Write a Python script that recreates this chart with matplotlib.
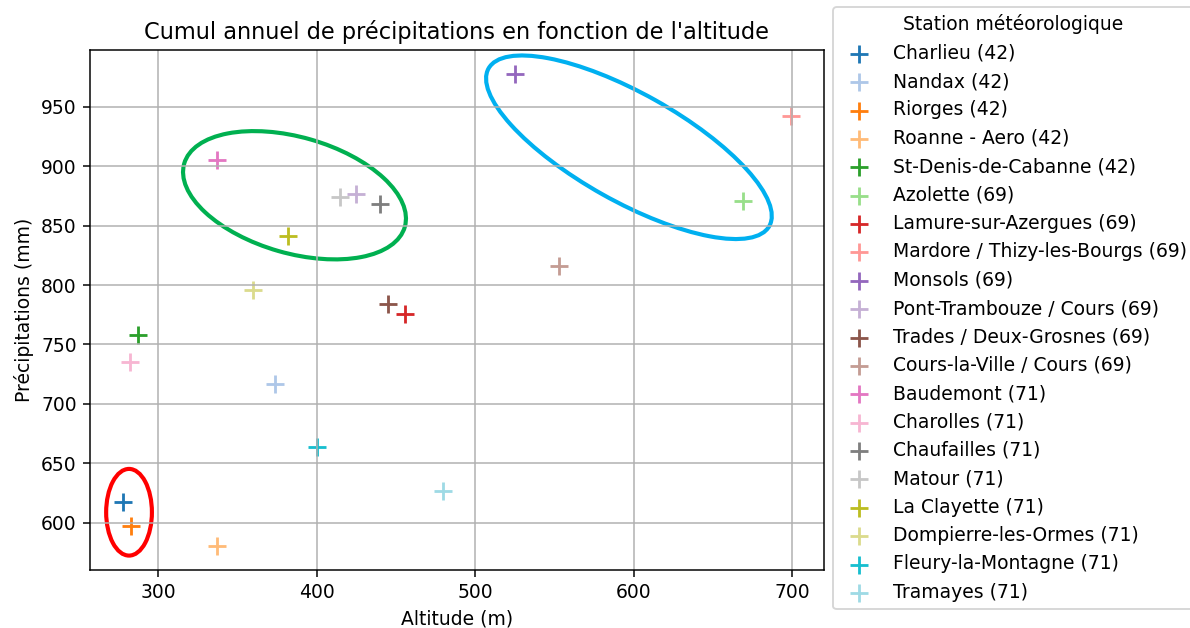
import matplotlib.pyplot as plt
from matplotlib.patches import Ellipse
from matplotlib.transforms import ScaledTranslation

stations = ["Charlieu (42)", "Nandax (42)", "Riorges (42)", "Roanne - Aero (42)",
            "St-Denis-de-Cabanne (42)", "Azolette (69)", "Lamure-sur-Azergues (69)",
            "Mardore / Thizy-les-Bourgs (69)", "Monsols (69)", "Pont-Trambouze / Cours (69)",
            "Trades / Deux-Grosnes (69)", "Cours-la-Ville / Cours (69)", "Baudemont (71)",
            "Charolles (71)", "Chaufailles (71)", "Matour (71)", "La Clayette (71)",
            "Dompierre-les-Ormes (71)", "Fleury-la-Montagne (71)", "Tramayes (71)"]
altitude = [278, 374, 283, 337, 287, 669, 456, 699, 525, 425,
            445, 553, 337, 282, 440, 415, 382, 360, 400, 480]
precip = [617, 717, 597, 580, 758, 871, 776, 942, 978, 877,
          784, 816, 905, 735, 868, 874, 841, 796, 664, 627]

# groups circled on the chart: centre (data), width/height (inches), angle, colour
groups_xy = [(281.6, 608.7), (386, 875.6), (597, 916)]
groups_size = [(0.339, 0.642, 0), (1.70, 0.86, -16), (2.385, 0.80, -29.3)]
groups_color = ["#ff0000", "#00b050", "#00b0f0"]

DPI = 135
fig, ax = plt.subplots(figsize=(1190 / DPI, 628 / DPI), dpi=DPI)
fig.subplots_adjust(left=0.0756, right=0.6924, top=0.9204, bottom=0.0924)

cmap = plt.get_cmap("tab20")
for i, name in enumerate(stations):
    ax.scatter(altitude[i], precip[i], marker="+", s=100, color=cmap(i), label=name)

ax.set_title("Cumul annuel de précipitations en fonction de l'altitude")
ax.set_xlabel("Altitude (m)")
ax.set_ylabel("Précipitations (mm)")
ax.grid(True)

for (cx, cy), (w, h, ang), col in zip(groups_xy, groups_size, groups_color):
    trans = fig.dpi_scale_trans + ScaledTranslation(cx, cy, ax.transData)
    ax.add_artist(Ellipse((0, 0), w, h, angle=ang, transform=trans,
                          fill=False, edgecolor=col, linewidth=2.2))

ax.legend(title="Station météorologique", loc="upper left",
          bbox_to_anchor=(1.012, 1.083), borderaxespad=0, labelspacing=0.5)

fig.savefig("out.png", dpi=DPI)
